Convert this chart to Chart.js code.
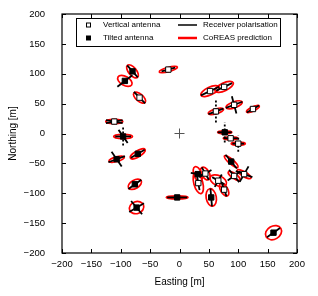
<!DOCTYPE html>
<html>
<head>
<meta charset="utf-8">
<script src="https://cdn.jsdelivr.net/npm/chart.js@4.4.0/dist/chart.umd.min.js"></script>
<style>
  html, body { margin: 0; padding: 0; background: #fff; }
</style>
</head>
<body>
<canvas id="antennas" width="318" height="296"></canvas>
<script>
// station positions [m]
let easting  = [-80, -93, -68, -19, -111, -96, -107, -71, -76, -73, -4, 52, 76, 62, 93, 125, 77, 87, 100, 88, 110, 93, 31, 44, 32, 66, 76, 54, 160];
let northing = [104, 88, 60, 107, 20, -5, -43, -34, -85, -124, -107, 71, 78, 37, 48, 41, 2, -8, -17, -47, -68, -71, -68, -67, -83, -79, -94, -107, -166];
// 'V' = vertical antenna, 'T' = tilted antenna
let antennaType = ['T', 'T', 'V', 'V', 'V', 'T', 'T', 'T', 'T', 'T', 'T', 'V', 'V', 'V', 'V', 'V', 'T', 'V', 'V', 'T', 'V', 'V', 'T', 'V', 'V', 'V', 'V', 'T', 'T'];
// receiver polarisation (deg from east, length in m), second arm where there is one
let polAngle  = [-48, 37, -45, 15, -10, -55, -55, 30, 35, -50, 0, 25, 25, 20, -75, 30, 0, 0, 0, -50, -20, -50, -10, 30, -80, -30, -70, -85, 35];
let polLength = [27, 32, 27, 24, 29, 27, 30, 27, 27, 29, 34, 34, 30, 27, 30, 24, 24, 24, 20, 30, 30, 27, 24, 24, 24, 24, 24, 30, 27];
let crossAngle = [null, null, null, null, 10, 0, 20, null, null, 30, null, null, null, null, 20, null, null, null, null, null, 60, 35, null, -60, null, 60, null, null, null];
// CoREAS prediction ellipse (deg from east, full axes in m)
let ellAngle = [-50, -30, -40, 15, 0, 0, 15, 30, 30, 20, 0, 25, 25, 15, 20, 25, 0, 0, 0, -40, -30, -35, -70, -60, -75, -25, -60, -80, 30];
let ellMajor = [27, 27, 25, 32, 29, 32, 27, 29, 25, 25, 37, 34, 34, 27, 29, 24, 24, 25, 24, 30, 27, 24, 27, 24, 37, 30, 24, 30, 29];
let ellMinor = [13, 15, 12, 7, 7, 7, 8, 10, 14, 20, 5, 13, 13, 8, 10, 7, 5, 5, 5, 8, 8, 8, 13, 13, 15, 17, 12, 17, 22];
// dotted vertical marker length [m], 0 = none
let dotLength = [0, 0, 0, 0, 0, 30, 0, 0, 0, 0, 0, 0, 0, 37, 0, 0, 34, 0, 27, 0, 0, 0, 0, 0, 0, 0, 0, 0, 0];

let axisTicks = [-200, -150, -100, -50, 0, 50, 100, 150, 200];
let legendLabels = ['Vertical antenna', 'Tilted antenna', 'Receiver polarisation', 'CoREAS prediction'];

Chart.defaults.font.family = "'Liberation Sans', Arial, sans-serif";
Chart.defaults.color = '#000';

function pick(type) {
    let pts = [];
    for (let i = 0; i < easting.length; i++) {
        if (antennaType[i] === type) pts.push({x: easting[i], y: northing[i]});
    }
    return pts;
}

let stationPlugin = {
    id: 'stations',
    beforeDatasetsDraw(chart) {
        let ctx = chart.ctx, xs = chart.scales.x, ys = chart.scales.y;
        let kx = Math.abs(xs.getPixelForValue(1) - xs.getPixelForValue(0));
        let ky = Math.abs(ys.getPixelForValue(1) - ys.getPixelForValue(0));
        let seg = function (cx, cy, deg, len) {
            let a = deg * Math.PI / 180;
            let dx = Math.cos(a) * len / 2 * kx, dy = -Math.sin(a) * len / 2 * ky;
            ctx.beginPath();
            ctx.moveTo(cx - dx, cy - dy);
            ctx.lineTo(cx + dx, cy + dy);
            ctx.stroke();
        };
        ctx.save();
        ctx.strokeStyle = '#ff0000';
        ctx.lineWidth = 1.7;
        for (let i = 0; i < easting.length; i++) {
            let cx = xs.getPixelForValue(easting[i]), cy = ys.getPixelForValue(northing[i]);
            ctx.beginPath();
            ctx.ellipse(cx, cy, ellMajor[i] / 2 * kx, ellMinor[i] / 2 * ky, -ellAngle[i] * Math.PI / 180, 0, 2 * Math.PI);
            ctx.stroke();
        }
        ctx.strokeStyle = '#000';
        ctx.setLineDash([2, 2]);
        ctx.lineWidth = 1.8;
        for (let i = 0; i < easting.length; i++) {
            if (!dotLength[i]) continue;
            seg(xs.getPixelForValue(easting[i]), ys.getPixelForValue(northing[i]), 90, dotLength[i]);
        }
        ctx.setLineDash([]);
        ctx.lineWidth = 1.8;
        for (let i = 0; i < easting.length; i++) {
            let cx = xs.getPixelForValue(easting[i]), cy = ys.getPixelForValue(northing[i]);
            seg(cx, cy, polAngle[i], polLength[i]);
            if (crossAngle[i] !== null) seg(cx, cy, crossAngle[i], polLength[i]);
        }
        ctx.restore();
    },
    afterDraw(chart) {
        let ctx = chart.ctx, a = chart.chartArea, xs = chart.scales.x, ys = chart.scales.y;
        ctx.save();
        // frame with inward ticks on all sides
        ctx.strokeStyle = '#000';
        ctx.lineWidth = 1.2;
        ctx.strokeRect(a.left, a.top, a.right - a.left, a.bottom - a.top);
        ctx.lineWidth = 1;
        ctx.beginPath();
        axisTicks.forEach(function (v) {
            let px = Math.round(xs.getPixelForValue(v)) + 0.5;
            let py = Math.round(ys.getPixelForValue(v)) + 0.5;
            ctx.moveTo(px, a.bottom); ctx.lineTo(px, a.bottom - 4);
            ctx.moveTo(px, a.top); ctx.lineTo(px, a.top + 4);
            ctx.moveTo(a.left, py); ctx.lineTo(a.left + 4, py);
            ctx.moveTo(a.right, py); ctx.lineTo(a.right - 4, py);
        });
        ctx.stroke();

        // legend box
        let lx = a.left + 14, ly = a.top + 4, lw = 204, lh = 28;
        ctx.fillStyle = '#fff';
        ctx.fillRect(lx, ly, lw, lh);
        ctx.lineWidth = 1;
        ctx.strokeRect(lx + 0.5, ly + 0.5, lw, lh);
        let r1 = ly + 7, r2 = ly + 20;
        ctx.fillStyle = '#fff';
        ctx.fillRect(lx + 10, r1 - 2.5, 5, 5);
        ctx.strokeRect(lx + 10.5, r1 - 2, 4, 4);
        ctx.fillStyle = '#000';
        ctx.fillRect(lx + 10, r2 - 2.5, 5, 5);
        ctx.lineWidth = 1.5;
        ctx.beginPath(); ctx.moveTo(lx + 102, r1); ctx.lineTo(lx + 121, r1); ctx.stroke();
        ctx.strokeStyle = '#ff0000';
        ctx.lineWidth = 2.5;
        ctx.beginPath(); ctx.moveTo(lx + 102, r2); ctx.lineTo(lx + 121, r2); ctx.stroke();
        ctx.font = "8px 'Liberation Sans', Arial, sans-serif";
        ctx.textBaseline = 'middle';
        ctx.textAlign = 'left';
        ctx.fillText(legendLabels[0], lx + 27, r1);
        ctx.fillText(legendLabels[1], lx + 27, r2);
        ctx.fillText(legendLabels[2], lx + 127, r1);
        ctx.fillText(legendLabels[3], lx + 127, r2);
        ctx.restore();
    }
};

let tickLabel = function (v) { return String(v).replace('-', '\u2212'); };

let antennaChart = new Chart(document.getElementById('antennas').getContext('2d'), {
    type: 'scatter',
    data: {
        datasets: [
            {
                label: legendLabels[0],
                data: pick('V'),
                pointStyle: 'rect',
                pointRadius: 3.8,
                backgroundColor: '#fff',
                borderColor: '#000',
                borderWidth: 1
            },
            {
                label: legendLabels[1],
                data: pick('T'),
                pointStyle: 'rect',
                pointRadius: 3.8,
                backgroundColor: '#000',
                borderColor: '#000',
                borderWidth: 1
            },
            {
                label: 'origin',
                data: [{x: 0, y: 0}],
                pointStyle: 'cross',
                pointRadius: 5,
                borderColor: '#555',
                borderWidth: 1
            }
        ]
    },
    options: {
        responsive: false,
        animation: false,
        events: [],
        layout: { padding: { top: 14, right: 21, left: 0, bottom: 0 } },
        plugins: { legend: { display: false }, tooltip: { enabled: false } },
        scales: {
            x: {
                type: 'linear',
                min: -200, max: 200,
                afterBuildTicks: function (s) { s.ticks = axisTicks.map(function (v) { return {value: v}; }); },
                afterFit: function (s) { s.height = 43; },
                grid: { display: false, drawTicks: false },
                border: { display: false },
                ticks: { padding: 6, maxRotation: 0, font: { size: 9.5 }, callback: tickLabel },
                title: { display: true, text: 'Easting [m]', font: { size: 10 }, padding: { top: 0, bottom: 8 } }
            },
            y: {
                type: 'linear',
                min: -200, max: 200,
                afterBuildTicks: function (s) { s.ticks = axisTicks.map(function (v) { return {value: v}; }); },
                afterFit: function (s) { s.width = 62; s.paddingTop = 0; s.paddingBottom = 0; },
                grid: { display: false, drawTicks: false },
                border: { display: false },
                ticks: { padding: 17, font: { size: 9.5 }, callback: tickLabel },
                title: { display: true, text: 'Northing [m]', font: { size: 10 }, padding: { top: 7, bottom: 0 } }
            }
        }
    },
    plugins: [stationPlugin]
});
</script>
</body>
</html>
